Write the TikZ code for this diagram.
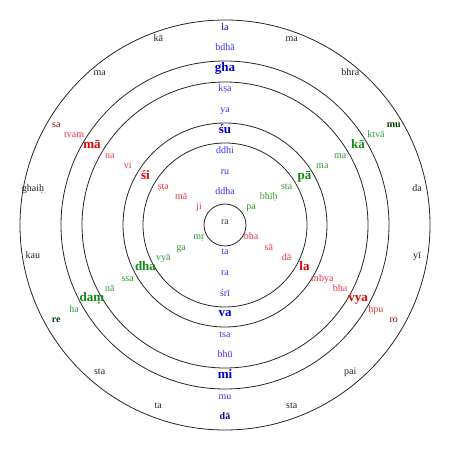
\documentclass[tikz,border=0pt]{standalone}
\usepackage{fontspec}
\setmainfont{Liberation Serif}
\definecolor{bluereg}{HTML}{3535F5}
\definecolor{bluebold}{HTML}{0000CC}
\definecolor{blueend}{HTML}{0000A0}
\definecolor{redreg}{HTML}{EE3344}
\definecolor{redbold}{HTML}{E00000}
\definecolor{redend}{HTML}{990000}
\definecolor{greenreg}{HTML}{339933}
\definecolor{greenbold}{HTML}{118811}
\definecolor{greenend}{HTML}{004400}
\definecolor{centercol}{HTML}{224A40}
\definecolor{outercol}{HTML}{222222}
\begin{document}
\begin{tikzpicture}[x=1pt,y=1pt,
  syl/.style={font=\fontsize{10}{12}\selectfont, anchor=base, inner sep=0pt},
  bigsyl/.style={font=\fontsize{13}{15}\selectfont\bfseries, anchor=base, inner sep=0pt},
  endsyl/.style={font=\fontsize{10}{12}\selectfont\bfseries, anchor=base, inner sep=0pt},
  ring/.style={draw=black!85, line width=0.8pt}]
\useasboundingbox (0,0) rectangle (450,450);
\coordinate (O) at (225,225);
% circles
\foreach \r in {21,82,102,143,164,205}{
  \draw[ring] (O) circle (\r);
}
% centre
\node[syl, text=centercol] (c) at (O) {ra};
% spokes: angle / step / text / style / colour
\foreach \ang/\k/\txt/\sty/\col in {
  90/1/ddha/syl/bluereg, 90/2/ru/syl/bluereg, 90/3/ddhi/syl/bluereg, 90/4/śu/bigsyl/bluebold,
  90/5/ya/syl/bluereg, 90/6/kṣa/syl/bluereg, 90/7/gha/bigsyl/bluebold, 90/8/bdhā/syl/bluereg, 90/9/la/syl/blueend,
  270/1/ta/syl/bluereg, 270/2/ra/syl/bluereg, 270/3/śrī/syl/bluereg, 270/4/va/bigsyl/bluebold,
  270/5/tsa/syl/bluereg, 270/6/bhū/syl/bluereg, 270/7/mi/bigsyl/bluebold, 270/8/mu/syl/bluereg, 270/9/dā/endsyl/blueend,
  150/1/ji/syl/redreg, 150/2/mā/syl/redreg, 150/3/ṣṭa/syl/redreg, 150/4/śi/bigsyl/redbold,
  150/5/vi/syl/redreg, 150/6/na/syl/redreg, 150/7/mā/bigsyl/redbold, 150/8/tvaṃ/syl/redreg, 150/9/sa/syl/redend,
  330/1/bha/syl/redreg, 330/2/sā/syl/redreg, 330/3/dā/syl/redreg, 330/4/la/bigsyl/redbold,
  330/5/mbya/syl/redreg, 330/6/bha/syl/redreg, 330/7/vya/bigsyl/redbold, 330/8/ḥpu/syl/redreg, 330/9/ro/syl/redend,
  30/1/pa/syl/greenreg, 30/2/bhīḥ/syl/greenreg, 30/3/sta/syl/greenreg, 30/4/pā/bigsyl/greenbold,
  30/5/ma/syl/greenreg, 30/6/ma/syl/greenreg, 30/7/kā/bigsyl/greenbold, 30/8/ktvā/syl/greenreg, 30/9/mu/endsyl/greenend,
  210/1/mṛ/syl/greenreg, 210/2/ga/syl/greenreg, 210/3/vyā/syl/greenreg, 210/4/dha/bigsyl/greenbold,
  210/5/ssa/syl/greenreg, 210/6/nā/syl/greenreg, 210/7/daṃ/bigsyl/greenbold, 210/8/ha/syl/greenreg, 210/9/re/endsyl/greenend}{
  \pgfmathsetmacro{\rad}{30+20.6*(\k-1)}
  \node[\sty, text=\col] (s\ang-\k) at ([shift={(\ang:\rad)}]O) {\txt};
}
% outer ring syllables
\foreach \ang/\txt in {10/da, 50/bhra, 70/ma, 110/kā, 130/ma, 170/ghaiḥ,
  190/kau, 230/sta, 250/ta, 290/sta, 310/pai, 350/yī}{
  \node[syl, text=outercol] (o\ang) at ([shift={(\ang:195)}]O) {\txt};
}
\end{tikzpicture}
\end{document}
